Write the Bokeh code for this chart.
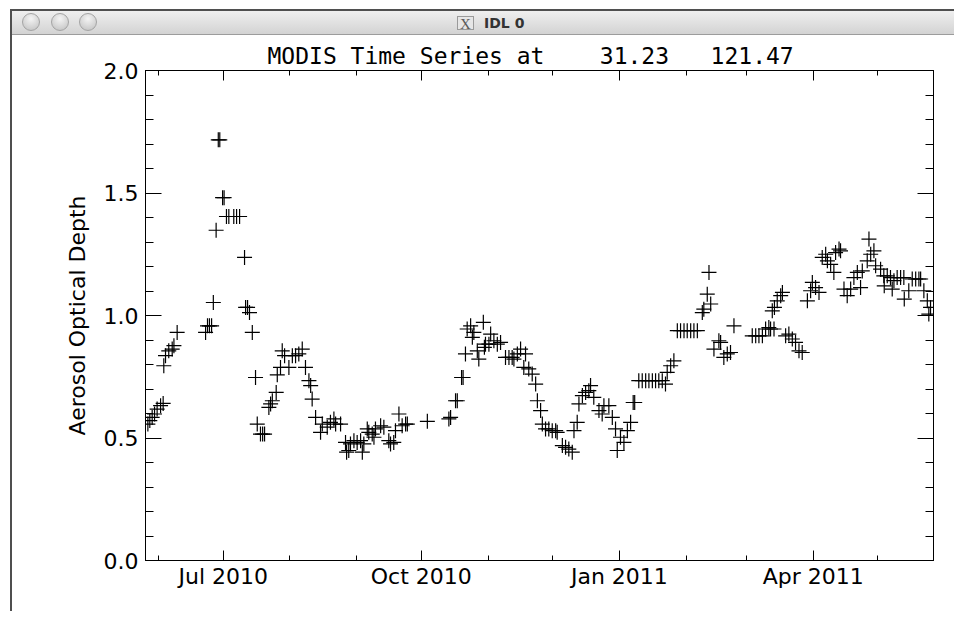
import re
from datetime import datetime
import numpy as np
from bokeh.plotting import figure
from bokeh.layouts import column, row
from bokeh.models import (ColumnDataSource, Range1d, FixedTicker, SingleIntervalTicker,
                          DatetimeTickFormatter, PrintfTickFormatter, DatetimeAxis, LinearAxis,
                          CustomJSTickFormatter, Div)
from bokeh.embed import file_html
from bokeh.resources import INLINE

# ---------------- data ----------------
title_text = "MODIS Time Series at    31.23   121.47"
y_label = "Aerosol Optical Depth"
window_title = "IDL 0"

base_date = "2010-07-01"
# days since 2010-07-01
days_since_base = [
    -35.0, -34.1, -33.0, -31.9, -30.7, -29.1, -27.9, -27.6, -26.8, -25.3, -23.7, -22.9, -21.4,
    -8.2, -7.3, -6.4, -5.4, -4.6, -3.3, -2.3, -1.6, -0.3, 0.4, 1.5, 2.6, 4.9, 6.2, 7.6,
    9.9, 10.4, 11.3, 12.2, 13.5, 15.0, 15.8, 17.3, 18.3, 19.2, 21.2, 22.0, 22.8, 24.6, 25.1,
    26.6, 27.4, 28.5, 30.5, 32.1, 33.6, 35.1, 36.7, 38.2, 39.8, 40.6, 41.3, 42.9, 45.2,
    46.0, 48.3, 49.8, 51.4, 52.2, 54.5, 56.8, 57.3, 58.3, 59.1, 60.7, 62.2, 63.8, 64.6, 65.3,
    66.9, 67.6, 69.2, 70.0, 70.7, 73.1, 74.6, 76.9, 77.7, 79.2, 80.0, 81.6, 83.1, 84.7, 85.5,
    94.8, 104.8, 105.6, 107.9, 108.7, 110.7, 111.4, 112.5, 113.3, 114.9, 115.7, 116.4, 118.0, 118.7,
    120.8, 121.3, 121.8, 123.4, 124.2, 125.7, 127.3, 128.8, 131.1, 132.7, 134.2, 135.0, 136.6,
    138.1, 139.6, 140.4, 141.9, 143.5, 145.1, 145.9, 147.4, 148.2, 149.7, 151.2, 152.8, 154.4, 155.1,
    157.5, 159.0, 160.5, 162.1, 162.9, 164.4, 165.2, 166.8, 168.3, 169.8, 170.6, 172.1, 174.5, 176.0,
    176.8, 179.1, 180.7, 182.2, 183.0, 184.5, 186.1, 187.7, 189.2, 190.4, 191.1,
    193.0, 194.6, 196.2, 197.7, 199.3, 200.8, 202.3, 203.9, 205.4, 206.2, 207.8, 209.3,
    210.9, 212.4, 214.0, 215.5, 217.1, 218.6, 220.2, 222.5, 223.2, 224.8, 225.6, 226.4, 227.9, 230.2,
    231.0, 232.5, 234.1, 235.6, 237.2, 245.7, 247.3, 248.8, 250.4, 251.9, 253.4, 254.2, 255.0, 255.8, 256.0,
    257.3, 258.9, 259.7, 261.2, 262.7, 264.3, 265.8, 267.4, 268.9, 271.3, 272.8, 273.6, 275.1, 276.7,
    278.2, 279.8, 280.6, 282.1, 283.6, 284.4, 286.0, 286.7, 288.3, 289.8, 291.4, 292.9, 294.5, 296.0, 296.8,
    299.1, 299.9, 300.7, 302.2, 303.0, 305.3, 306.8, 307.0, 308.4, 309.9, 310.7, 311.5, 313.0, 314.6, 316.1, 316.3,
    318.4, 320.0, 321.6, 323.1, 323.9, 325.4, 327.0, 327.7, 328.5,
]
aod = [
    0.557, 0.571, 0.584, 0.598, 0.618, 0.632, 0.641, 0.795, 0.836, 0.856, 0.863, 0.877, 0.931,
    0.931, 0.958, 0.958, 0.958, 1.053, 1.348, 1.717, 1.717, 1.481, 1.481, 1.404, 1.404, 1.404, 1.404, 1.404,
    1.237, 1.033, 1.033, 1.012, 0.931, 0.747, 0.557, 0.516, 0.516, 0.516, 0.625, 0.639, 0.652, 0.686, 0.758,
    0.788, 0.856, 0.836, 0.788, 0.836, 0.836, 0.843, 0.863, 0.788, 0.734, 0.714, 0.659, 0.584, 0.523,
    0.557, 0.544, 0.564, 0.578, 0.557, 0.557, 0.482, 0.442, 0.449, 0.476, 0.489, 0.482, 0.489, 0.442, 0.476,
    0.537, 0.523, 0.516, 0.503, 0.537, 0.550, 0.544, 0.489, 0.476, 0.482, 0.530, 0.598, 0.550, 0.557, 0.557,
    0.568, 0.578, 0.584, 0.652, 0.652, 0.747, 0.747, 0.843, 0.945, 0.958, 0.911, 0.931, 0.856, 0.822,
    0.972, 0.870, 0.883, 0.883, 0.924, 0.897, 0.883, 0.890, 0.829, 0.829, 0.829, 0.822, 0.843,
    0.863, 0.788, 0.843, 0.782, 0.761, 0.720, 0.652, 0.612, 0.557, 0.537, 0.537, 0.530, 0.530, 0.523,
    0.469, 0.462, 0.455, 0.442, 0.530, 0.564, 0.639, 0.673, 0.686, 0.693, 0.714, 0.666, 0.612, 0.598,
    0.632, 0.632, 0.584, 0.537, 0.449, 0.503, 0.482, 0.530, 0.564, 0.645, 0.645,
    0.734, 0.734, 0.734, 0.734, 0.734, 0.734, 0.734, 0.734, 0.720, 0.768, 0.795, 0.815,
    0.938, 0.938, 0.938, 0.938, 0.938, 0.938, 0.938, 1.012, 1.026, 1.087, 1.176, 1.047, 0.863, 0.897,
    0.890, 0.829, 0.843, 0.849, 0.958, 0.917, 0.917, 0.917, 0.917, 0.945, 0.951, 0.945, 1.019, 0.945, 1.033,
    1.060, 1.081, 1.094, 0.917, 0.924, 0.904, 0.890, 0.856, 0.849, 1.060, 1.101, 1.135, 1.114, 1.094,
    1.237, 1.250, 1.223, 1.209, 1.176, 1.257, 1.271, 1.264, 1.108, 1.081, 1.108, 1.155, 1.176, 1.114, 1.182,
    1.223, 1.312, 1.250, 1.264, 1.203, 1.189, 1.162, 1.121, 1.162, 1.155, 1.108, 1.142, 1.155, 1.155, 1.155, 1.067,
    1.101, 1.149, 1.149, 1.149, 1.149, 1.101, 1.060, 1.006, 1.033,
]
major_tick_dates = ["2010-07-01", "2010-10-01", "2011-01-01", "2011-04-01"]
minor_tick_dates = ["2010-06-01", "2010-07-01", "2010-08-01", "2010-09-01", "2010-10-01",
                    "2010-11-01", "2010-12-01", "2011-01-01", "2011-02-01", "2011-03-01",
                    "2011-04-01", "2011-05-01"]
x_start = datetime(2010, 5, 25, 21, 36)
x_end = datetime(2011, 5, 26, 21, 0)
y_min, y_max = 0.0, 2.0

# ---------------- build ----------------
def to_ms(d):
    return float(np.datetime64(d, "ms").astype(np.int64))

base = np.datetime64(base_date, "ms")
dates = base + (np.array(days_since_base) * 86400000).astype("timedelta64[ms]")
src = ColumnDataSource(dict(date=dates, aod=aod))

FONT = "DejaVu Sans"
TITLE_FONT = "DejaVu Sans Mono"
TOTAL_W = 954
BAR_H = 36
FIG_X = 12
FIG_W = TOTAL_W - FIG_X
FIG_H = 611 - BAR_H

p = figure(width=FIG_W, height=FIG_H, x_axis_type="datetime", output_backend="svg",
           toolbar_location=None, x_range=Range1d(x_start, x_end),
           y_range=Range1d(y_min, y_max),
           min_border_left=133, min_border_right=21, min_border_top=34, min_border_bottom=51)
p.background_fill_color = "white"
p.border_fill_color = "white"
p.outline_line_color = "black"
p.outline_line_width = 1
p.xgrid.grid_line_color = None
p.ygrid.grid_line_color = None

# keep IDL's runs of blanks visible in SVG text (no whitespace collapsing)
title_display = re.sub(r" {2,}", lambda m: "\u00a0" * (len(m.group(0)) - 1) + " ", title_text)
p.title.text = title_display
p.title.align = "left"
p.title.offset = 122
p.title.vertical_align = "top"
p.title.text_line_height = 0.8
p.title.text_font = TITLE_FONT
p.title.text_font_size = "23px"
p.title.text_font_style = "normal"
p.title.text_color = "black"
p.title.standoff = 0

xt = FixedTicker(ticks=[to_ms(d) for d in major_tick_dates],
                 minor_ticks=[to_ms(d) for d in minor_tick_dates])
fmt = "%b %Y"
xfmt = DatetimeTickFormatter(milliseconds=fmt, seconds=fmt, minsec=fmt, minutes=fmt,
                             hourmin=fmt, hours=fmt, days=fmt, months=fmt, years=fmt)
yt = SingleIntervalTicker(interval=0.5, num_minor_ticks=5)
blank = CustomJSTickFormatter(code="return ''")

def style(ax, major_len, minor_len, labels=True):
    ax.axis_line_color = "black"
    ax.axis_line_width = 1
    ax.major_tick_line_color = "black"
    ax.minor_tick_line_color = "black"
    ax.major_tick_in = major_len
    ax.major_tick_out = 0
    ax.minor_tick_in = minor_len
    ax.minor_tick_out = 0
    ax.major_label_text_font = FONT
    ax.major_label_text_font_size = "22px"
    ax.major_label_text_color = "black"
    if not labels:
        ax.major_label_standoff = 0
        ax.major_label_text_font_size = "0px"

bx = p.xaxis[0]
bx.ticker = xt
bx.formatter = xfmt
style(bx, 10, 5)
bx.major_label_standoff = 3

ly = p.yaxis[0]
ly.ticker = yt
ly.formatter = PrintfTickFormatter(format="%.1f")
style(ly, 16, 8)
ly.major_label_standoff = 7
ly.axis_label = y_label
ly.axis_label_text_font = FONT
ly.axis_label_text_font_size = "22px"
ly.axis_label_text_font_style = "normal"
ly.axis_label_text_color = "black"
ly.axis_label_standoff = 11

top = DatetimeAxis(ticker=xt, formatter=blank)
style(top, 10, 5, labels=False)
p.add_layout(top, "above")
right = LinearAxis(ticker=yt, formatter=blank)
style(right, 16, 8, labels=False)
p.add_layout(right, "right")

p.scatter("date", "aod", source=src, marker="cross", size=15,
          line_color="black", line_width=1.2)

# ---------------- window chrome (IDL window frame) ----------------
def circle(cx):
    return ('<div style="position:absolute;left:%dpx;top:13px;width:18px;height:18px;'
            'border-radius:50%%;border:1px solid #a4a4a4;'
            'background:radial-gradient(circle at 50%% 30%%, #f4f4f4, #cfcfcf 70%%, #bdbdbd);"></div>'
            % (cx - 9))

bar_html = (
    '<div style="position:relative;width:%dpx;height:%dpx;overflow:hidden;background:#ffffff;">'
    '<div style="position:absolute;left:10px;top:9px;width:%dpx;height:2px;background:#4f4f4f;"></div>'
    '<div style="position:absolute;left:10px;top:9px;width:2px;height:%dpx;background:#4f4f4f;"></div>'
    '<div style="position:absolute;left:12px;top:11px;width:%dpx;height:24px;'
    'background:linear-gradient(#efefef,#d3d3d3);border-bottom:1px solid #9c9c9c;"></div>'
    '%s%s%s'
    '<div style="position:absolute;left:457px;top:16px;width:17px;height:14px;border:1px solid #9a9a9a;'
    'background:#e6e6e6;color:#5a5a5a;font:15px \'Liberation Serif\';line-height:14px;text-align:center;">X</div>'
    '<div style="position:absolute;left:484px;top:15px;color:#333333;font:bold 14px \'DejaVu Sans\';'
    'line-height:16px;white-space:pre;">%s</div>'
    '</div>'
) % (TOTAL_W, BAR_H, TOTAL_W, BAR_H, TOTAL_W, circle(31), circle(60), circle(88), window_title)

bar = Div(text=bar_html, width=TOTAL_W, height=BAR_H, margin=0)
gap = Div(text="", width=10, height=FIG_H, margin=0)
edge = Div(text="", width=2, height=FIG_H, margin=0, styles={"background-color": "#4f4f4f"})

layout = column(bar, row(gap, edge, p, spacing=0), spacing=0)

open("out.html", "w").write(file_html(layout, INLINE))
